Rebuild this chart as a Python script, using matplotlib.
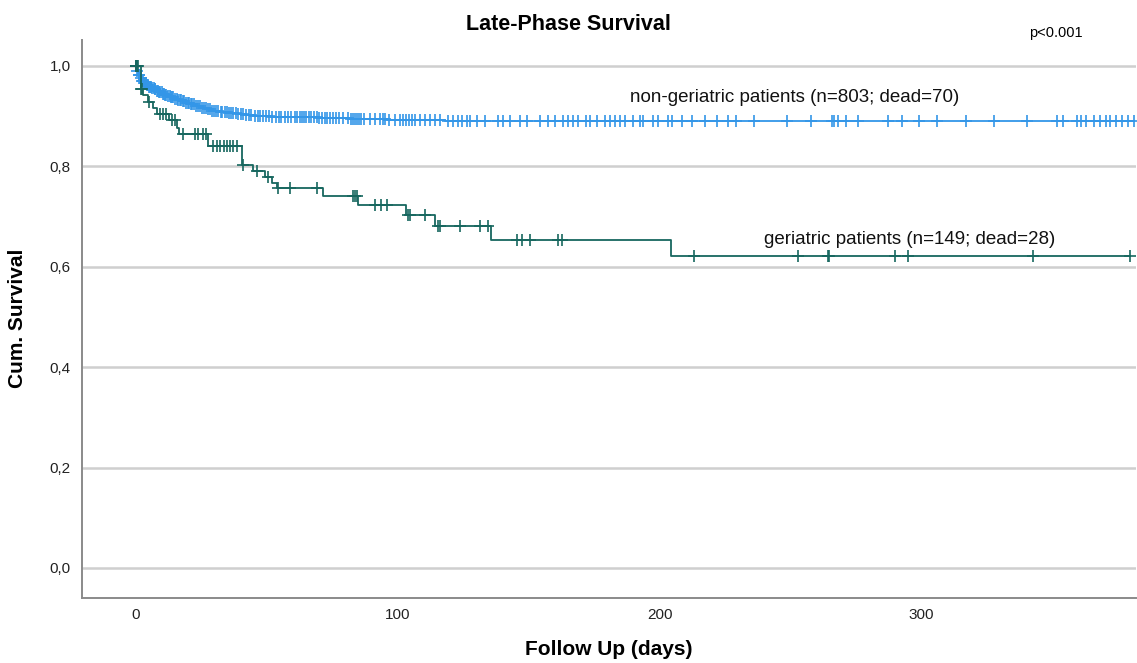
import numpy as np
import matplotlib
matplotlib.use("Agg")
import matplotlib.pyplot as plt

plt.rcParams["font.family"] = ["Liberation Sans", "DejaVu Sans"]

# Kaplan-Meier data (days, cumulative survival)
geri_times = [1.9, 2.8, 4.6, 6.5, 8.0, 12.6, 15.7, 16.4, 27.5, 40.4, 44.7, 49.3,
              51.9, 53.9, 71.4, 85.0, 103.3, 114.2, 135.6, 204.2]
geri_surv = [0.953, 0.942, 0.929, 0.916, 0.904, 0.892, 0.877, 0.864, 0.841, 0.802,
             0.790, 0.778, 0.767, 0.757, 0.740, 0.723, 0.703, 0.681, 0.653, 0.621]
geri_censor = [0, 0, 0, 0.4, 0.8, 2.1, 2.5, 5.0, 9.2, 10.3, 11.5, 13.8, 14.9,
               18.0, 22.5, 23.7, 25.6, 26.7, 29.4, 30.9, 32.1, 33.6, 34.8, 35.9,
               37.1, 38.6, 40.9, 46.2, 50.4, 54.2, 58.8, 69.1, 82.9, 83.7, 84.4,
               91.5, 93.5, 96.0, 103.9, 104.7, 110.4, 115.4, 116.1, 123.8, 131.4,
               134.5, 145.5, 147.4, 150.5, 161.2, 162.7, 213.1, 252.9, 264.3,
               264.7, 289.9, 294.9, 342.6, 379.7]

nong_times = [0.5, 1, 1.5, 2, 3, 4, 5, 6, 7, 8, 9, 10, 11, 12, 13, 14.5, 16, 17.5,
              19, 21, 23, 25, 27, 29, 32, 35, 38.5, 42, 45, 52, 60, 70, 82, 96, 118]
nong_surv = [0.990, 0.982, 0.975, 0.970, 0.965, 0.961, 0.958, 0.956, 0.953, 0.950,
             0.947, 0.944, 0.942, 0.940, 0.938, 0.935, 0.932, 0.930, 0.927, 0.924,
             0.920, 0.917, 0.914, 0.911, 0.908, 0.906, 0.904, 0.902, 0.900, 0.899,
             0.898, 0.896, 0.894, 0.892, 0.890]
nong_censor = [0, 0, 0, 0.3, 0.6, 1.1, 1.4, 1.8, 2.3, 2.6, 3.1, 3.5, 3.8, 4.2, 4.7,
               5.0, 5.4, 5.9, 6.3, 6.8, 7.2, 7.5, 8.1, 8.6, 9.0, 9.3, 9.9, 10.4,
               10.8, 11.3, 11.7, 12.2, 12.9, 13.4, 13.8, 14.3, 15.0, 15.6, 16.1,
               16.8, 17.2, 17.9, 18.5, 19.1, 19.8, 20.3, 21.0, 21.6, 22.4, 23.1,
               23.7, 24.5, 25.2, 26.0, 26.8, 27.4, 28.3, 29.0, 29.9, 30.7, 31.5,
               32.4, 33.0, 33.9, 34.8, 35.6, 36.5, 37.2, 38.1, 39.0, 40.2, 41.1,
               42.0, 43.3, 44.1, 45.4, 46.5, 47.3, 48.6, 49.8, 50.9, 52.0, 53.4,
               54.6, 55.5, 56.9, 58.2, 59.4, 60.8, 61.7, 62.6, 63.5, 64.2, 65.0,
               66.0, 67.0, 68.1, 69.0, 70.0, 71.2, 72.3, 73.1, 74.1, 75.4, 76.6,
               77.4, 79.2, 81.1, 82.0, 82.8, 83.5, 84.6, 85.2, 86.1, 87.1, 89.4,
               91.3, 93.2, 94.4, 95.1, 96.8, 98.9, 100.8, 102.1, 103.3, 104.4,
               105.6, 106.5, 108.5, 110.4, 112.3, 114.2, 116.1, 119.3, 121.2,
               123.1, 124.4, 126.3, 127.6, 130.1, 133.3, 138.4, 140.3, 142.8,
               146.6, 149.2, 154.3, 157.5, 160.0, 163.2, 165.1, 167.0, 169.0,
               172.0, 173.4, 175.9, 179.1, 181.0, 183.0, 184.9, 186.8, 190.0,
               192.5, 193.8, 197.6, 199.5, 203.3, 204.6, 208.4, 212.2, 217.3,
               221.8, 226.0, 229.0, 236.0, 248.5, 257.8, 265.6, 266.7, 267.9,
               271.0, 275.7, 287.3, 292.7, 299.0, 306.0, 316.8, 327.7, 340.1,
               351.7, 354.1, 359.5, 361.0, 362.6, 365.7, 368.0, 370.4, 371.9,
               374.2, 376.6, 378.9, 380.9]

y_ticks = [0.0, 0.2, 0.4, 0.6, 0.8, 1.0]
x_ticks = [0, 100, 200, 300]

blue = "#3396e8"
teal = "#17675f"


def level_at(t, times, surv):
    idx = np.searchsorted(times, t, side="right") - 1
    surv = np.asarray(surv)
    return np.where(idx >= 0, surv[np.clip(idx, 0, None)], 1.0)


def draw_km(ax, times, surv, censor, color, z):
    xs = [0] + list(times) + [max(censor)]
    ys = [1.0] + list(surv) + [surv[-1]]
    ax.step(xs, ys, where="post", color=color, lw=1.3, zorder=z)
    c = np.array(censor)
    ax.plot(c, level_at(c, times, surv), ls="none", marker="+", ms=9, mew=1.2,
            color=color, zorder=z)


fig = plt.figure(figsize=(11.37, 6.63), dpi=100)
ax = fig.add_axes([0.072, 0.098, 0.927, 0.842])

for v in y_ticks:
    ax.axhline(v, color="#cfcfcf", lw=1.8, zorder=1)

draw_km(ax, nong_times, nong_surv, nong_censor, blue, 3)
draw_km(ax, geri_times, geri_surv, geri_censor, teal, 4)

ax.set_xlim(-20.6, 381.8)
ax.set_ylim(-0.06, 1.052)
ax.set_xticks(x_ticks)
ax.set_xticklabels([str(v) for v in x_ticks])
ax.set_yticks(y_ticks)
ax.set_yticklabels([f"{v:.1f}".replace(".", ",") for v in y_ticks])
ax.tick_params(length=0, labelsize=11, pad=8, colors="#222222")
ax.tick_params(axis="x", pad=7)

for s in ["top", "right"]:
    ax.spines[s].set_visible(False)
for s in ["left", "bottom"]:
    ax.spines[s].set_color("#8a8a8a")
    ax.spines[s].set_linewidth(1.4)

ax.set_xlabel("Follow Up (days)", fontsize=15, fontweight="bold", va="center")
ax.xaxis.set_label_coords(0.5, -0.093)
ax.set_ylabel("Cum. Survival", fontsize=15, fontweight="bold", va="center")
ax.yaxis.set_label_coords(-0.0606, 0.501)

ax.text(188.5, 0.938, "non-geriatric patients (n=803; dead=70)", fontsize=13.5,
        va="center", ha="left", color="#111111")
ax.text(240, 0.655, "geriatric patients (n=149; dead=28)", fontsize=13.5,
        va="center", ha="left", color="#111111")

fig.text(0.5, 1 - 25 / 663, "Late-Phase Survival", fontsize=15.5, fontweight="bold",
         ha="center", va="center")
fig.text(1056 / 1137, 1 - 33 / 663, "p<0.001", fontsize=10.5, ha="center", va="center")

fig.savefig("out.png", dpi=100)
